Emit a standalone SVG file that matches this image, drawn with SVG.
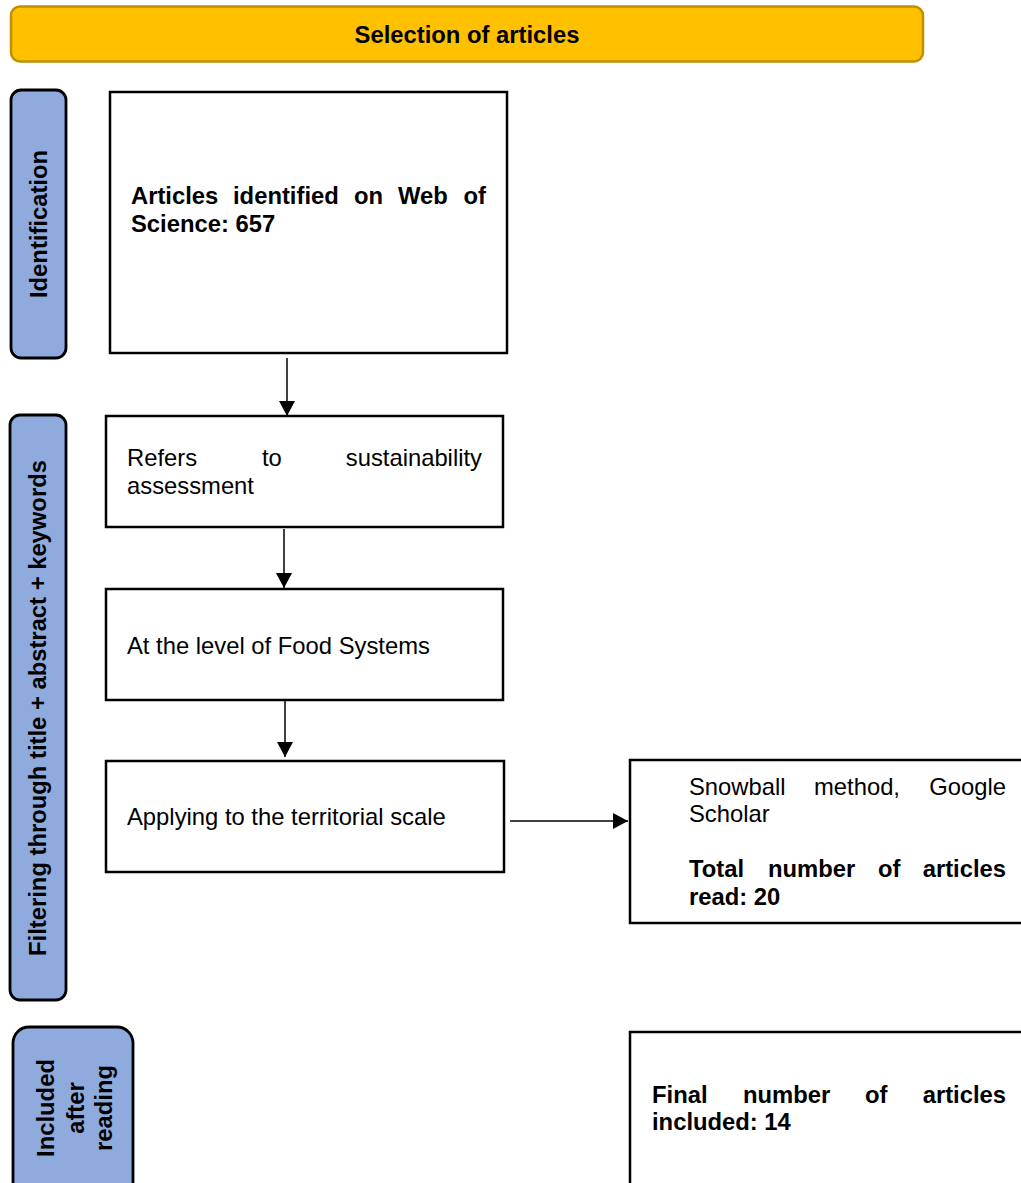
<svg xmlns="http://www.w3.org/2000/svg" width="1021" height="1183" viewBox="0 0 1021 1183">
<style>
text{font-family:"Liberation Sans",Arial,sans-serif;font-size:23.8px;fill:#000}
.b{font-weight:bold}
.pill{fill:#8FAADC;stroke:#000;stroke-width:2.8}
.box{fill:#fff;stroke:#000;stroke-width:2.5}
.ln{stroke:#000;stroke-width:1.5;fill:none}
</style>
<defs>
<marker id="ah" markerWidth="16" markerHeight="16" refX="15" refY="8" orient="auto" markerUnits="userSpaceOnUse">
<path d="M0,0 L15,8 L0,16 Z" fill="#000"/>
</marker>
</defs>
<rect width="1021" height="1183" fill="#fff"/>
<g id="header">
<rect x="11" y="6.5" width="912" height="55" rx="9" fill="#FFC000" stroke="#BF9000" stroke-width="2.5"/>
<text class="b" x="467" y="43" text-anchor="middle">Selection of articles</text>
</g>
<g id="stage-identification">
<rect class="pill" x="11" y="90" width="55" height="268" rx="10"/>
<text class="b" transform="translate(47,224) rotate(-90)" text-anchor="middle">Identification</text>
</g>
<g id="stage-filtering">
<rect class="pill" x="10" y="415" width="56" height="585" rx="10"/>
<text class="b" transform="translate(46,708) rotate(-90)" text-anchor="middle">Filtering through title + abstract + keywords</text>
</g>
<g id="stage-included">
<rect class="pill" x="13" y="1027" width="120" height="175" rx="16"/>
<text class="b" transform="translate(54,1108) rotate(-90)" text-anchor="middle">Included</text>
<text class="b" transform="translate(84,1108) rotate(-90)" text-anchor="middle">after</text>
<text class="b" transform="translate(112,1108) rotate(-90)" text-anchor="middle">reading</text>
</g>
<g id="n-identified">
<rect class="box" x="110" y="92" width="397" height="261"/>
<text class="b" y="204"><tspan x="131">Articles</tspan><tspan x="233">identified</tspan><tspan x="354">on</tspan><tspan x="398">Web</tspan></text>
<text class="b" x="486" y="204" text-anchor="end">of</text>
<text class="b" x="131" y="232">Science: 657</text>
</g>
<g id="n-sustainability">
<rect class="box" x="106" y="416" width="397" height="111"/>
<text y="466"><tspan x="127">Refers</tspan><tspan x="262">to</tspan></text>
<text x="482" y="466" text-anchor="end">sustainability</text>
<text x="127" y="494">assessment</text>
</g>
<g id="n-foodsystems">
<rect class="box" x="106" y="589" width="397" height="111"/>
<text x="127" y="654">At the level of Food Systems</text>
</g>
<g id="n-territorial">
<rect class="box" x="106" y="761" width="398" height="111"/>
<text x="127" y="825">Applying to the territorial scale</text>
</g>
<g id="n-snowball">
<rect class="box" x="630" y="760" width="420" height="163"/>
<text y="795"><tspan x="689">Snowball</tspan><tspan x="814">method,</tspan></text>
<text x="1006" y="795" text-anchor="end">Google</text>
<text x="689" y="822">Scholar</text>
<text class="b" y="877"><tspan x="689">Total</tspan><tspan x="768">number</tspan><tspan x="878">of</tspan></text>
<text class="b" x="1006" y="877" text-anchor="end">articles</text>
<text class="b" x="689" y="905">read: 20</text>
</g>
<g id="n-final">
<rect class="box" x="630" y="1032" width="420" height="180"/>
<text class="b" y="1103"><tspan x="652">Final</tspan><tspan x="743">number</tspan><tspan x="865">of</tspan></text>
<text class="b" x="1006" y="1103" text-anchor="end">articles</text>
<text class="b" x="652" y="1130">included: 14</text>
</g>
<g id="connectors">
<line class="ln" x1="287" y1="358" x2="287" y2="416" marker-end="url(#ah)"/>
<line class="ln" x1="284" y1="529" x2="284" y2="588" marker-end="url(#ah)"/>
<line class="ln" x1="285" y1="701" x2="285" y2="757" marker-end="url(#ah)"/>
<line class="ln" x1="510" y1="821" x2="628" y2="821" marker-end="url(#ah)"/>
</g>
</svg>
